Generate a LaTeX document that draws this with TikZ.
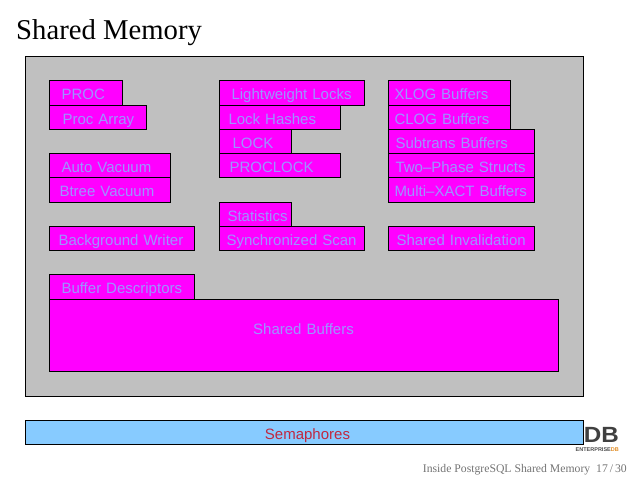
\documentclass[tikz,border=0pt]{standalone}
\usepackage{fontspec}
\newfontfamily\boxfont{Liberation Sans}
\newfontfamily\slidefont{Liberation Serif}
\definecolor{memgray}{HTML}{C0C0C0}
\definecolor{memmagenta}{HTML}{FF00FF}
\definecolor{memtext}{HTML}{9C94FF}
\definecolor{semblue}{HTML}{87CBFF}
\definecolor{semtext}{HTML}{C02840}
\definecolor{logoorange}{HTML}{E08A20}
\tikzset{
  membox/.style 2 args={draw=black, line width=1pt, fill=memmagenta, text=memtext, anchor=north west,
    inner sep=0pt, minimum width=#1pt, minimum height=#2pt, text width=#1pt, align=left,
    text height=15pt, text depth=1.5pt, font=\boxfont\fontsize{15}{16}\selectfont},
  outerbox/.style 2 args={membox={#1}{#2}, fill=memgray},
  semabox/.style 2 args={membox={#1}{#2}, fill=semblue, text=semtext}
}
\begin{document}
\begin{tikzpicture}[x=1pt,y=-1pt]
\useasboundingbox (0,0) rectangle (638,479);
\node[anchor=base west, inner sep=0pt, font=\slidefont\fontsize{28.7}{30}\selectfont] (title) at (16,39) {Shared Memory};
\node[anchor=base east, inner sep=0pt, text=black!55, font=\slidefont\fontsize{11.7}{13}\selectfont] (footer) at (627,472) {Inside PostgreSQL Shared Memory\hspace{6pt}17\,/\,30};
\node[anchor=base east, inner sep=0pt, text=black!75, font=\boxfont\bfseries\fontsize{22}{22}\selectfont] (logo) at (619,442.5) {\scalebox{1.1}[1]{EDB}};
\node[anchor=base east, inner sep=0pt, text=black!70, font=\boxfont\bfseries\fontsize{5.5}{5.5}\selectfont] (logotext) at (619,451) {ENTERPRISE\textcolor{logoorange}{DB}};
%
\node[outerbox={558}{340}] (memory) at (25,56) {};
%
\node[membox={73}{25}] (proc) at (49,80) {\hspace*{12pt}PROC};
\node[membox={97}{24}] (procarray) at (49,105) {\hspace*{13pt}Proc Array};
\node[membox={121}{24}] (autovacuum) at (49,153) {\hspace*{12pt}Auto Vacuum};
\node[membox={121}{25}] (btree) at (49,177) {\hspace*{10pt}Btree Vacuum};
\node[membox={145}{24}] (bgwriter) at (49,226) {\hspace*{9pt}Background Writer};
\node[membox={145}{25}] (bufdesc) at (49,274) {\hspace*{12pt}Buffer Descriptors};
\node[membox={509}{72}, align=center, text depth=17.5pt] (shbuf) at (49,299) {\hspace*{-1pt}Shared Buffers};
%
\node[membox={145}{25}] (lwlocks) at (219,80) {\hspace*{12pt}Lightweight Locks};
\node[membox={121}{24}] (lockhash) at (219,105) {\hspace*{9pt}Lock Hashes};
\node[membox={72}{24}] (lock) at (219,129) {\hspace*{13pt}LOCK};
\node[membox={121}{24}] (proclock) at (219,153) {\hspace*{10pt}PROCLOCK};
\node[membox={72}{24}] (stats) at (219,202) {\hspace*{8pt}Statistics};
\node[membox={145}{24}] (syncscan) at (219,226) {\hspace*{7pt}Synchronized Scan};
%
\node[membox={122}{25}] (xlog) at (388,80) {\hspace*{6pt}XLOG Buffers};
\node[membox={122}{24}] (clog) at (388,105) {\hspace*{6pt}CLOG Buffers};
\node[membox={146}{24}] (subtrans) at (388,129) {\hspace*{7pt}Subtrans Buffers};
\node[membox={146}{24}] (twophase) at (388,153) {\hspace*{7pt}Two–Phase Structs};
\node[membox={146}{25}] (multixact) at (388,177) {\hspace*{6pt}Multi–XACT Buffers};
\node[membox={146}{24}] (shinval) at (388,226) {\hspace*{8pt}Shared Invalidation};
%
\node[semabox={558}{24}, align=center] (sema) at (25,420) {\hspace*{6pt}Semaphores};
\end{tikzpicture}
\end{document}
